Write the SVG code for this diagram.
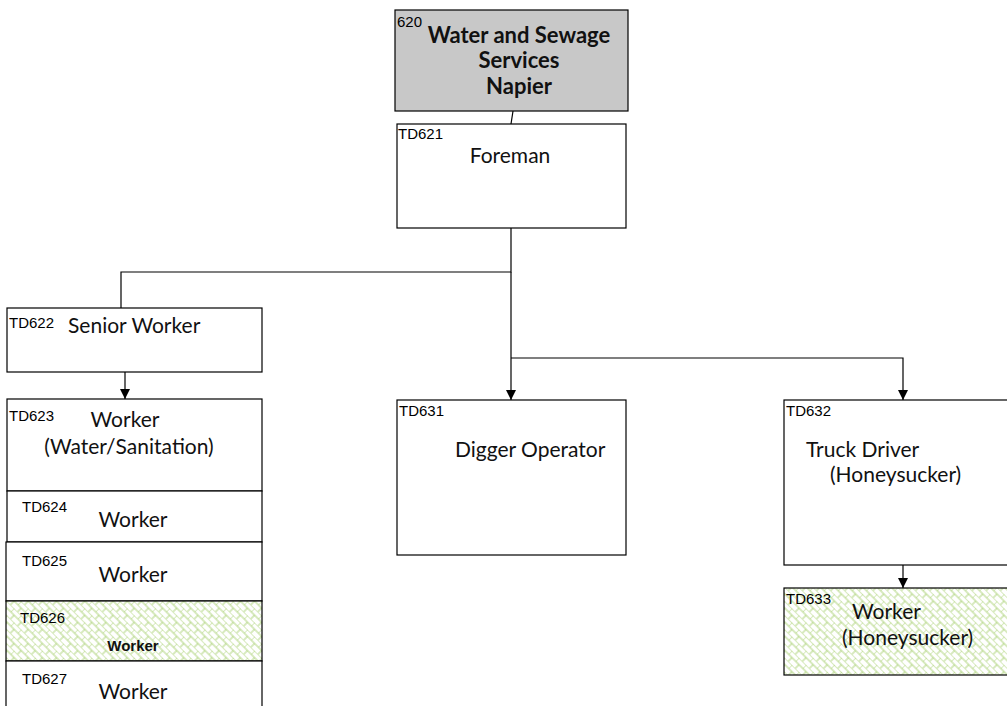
<svg xmlns="http://www.w3.org/2000/svg" width="1007" height="706" viewBox="0 0 1007 706">
<defs>
<pattern id="hatch" width="10" height="10" patternUnits="userSpaceOnUse" patternTransform="rotate(45)">
<rect width="10" height="10" fill="#ffffff"/>
<path d="M0,0 H10 M0,5 H10 M0,0 V5 M5,5 V10" stroke="#a8d070" stroke-width="0.9" fill="none"/>
</pattern>
<marker id="arr" viewBox="0 0 10 10" refX="10" refY="5" markerWidth="10" markerHeight="10" markerUnits="userSpaceOnUse" orient="auto">
<path d="M0,0 L10,5 L0,10 z" fill="#000"/>
</marker>
</defs>
<style>
.box{fill:#fff;stroke:#000;stroke-width:1.2}
.grey{fill:#c8c8c8;stroke:#000;stroke-width:1.2}
.hat{fill:url(#hatch);stroke:#000;stroke-width:1.2}
.code{font-family:"Liberation Sans",Arial,sans-serif;font-size:15px;fill:#000}
.lbl{font-family:Lato,"Open Sans",sans-serif;font-size:21px;fill:#111}
.bold{font-family:Lato,"Open Sans",sans-serif;font-size:22px;font-weight:bold;fill:#111}
.small{font-family:"Liberation Sans",Arial,sans-serif;font-size:15px;font-weight:bold;fill:#111}
.ln{stroke:#000;stroke-width:1.2;fill:none}
</style>
<rect width="1007" height="706" fill="#fff"/>
<g id="connectors">
<line class="ln" x1="513" y1="111" x2="511" y2="124"/>
<polyline class="ln" points="511,228 511,272 121,272 121,308"/>
<line class="ln" x1="511" y1="272" x2="511" y2="400" marker-end="url(#arr)"/>
<polyline class="ln" points="511,358 903,358 903,400" marker-end="url(#arr)"/>
<line class="ln" x1="125" y1="372" x2="125" y2="399" marker-end="url(#arr)"/>
<line class="ln" x1="903" y1="565" x2="903" y2="588" marker-end="url(#arr)"/>
</g>
<g id="n620">
<rect class="grey" x="395" y="10" width="233" height="101"/>
<text class="code" x="397" y="27">620</text>
<text class="bold" x="519" y="43" text-anchor="middle">Water and Sewage</text>
<text class="bold" x="519" y="68" text-anchor="middle">Services</text>
<text class="bold" x="519" y="94" text-anchor="middle">Napier</text>
</g>
<g id="n621">
<rect class="box" x="397" y="124" width="229" height="104"/>
<text class="code" x="398" y="139">TD621</text>
<text class="lbl" x="510" y="163" text-anchor="middle">Foreman</text>
</g>
<g id="n622">
<rect class="box" x="7" y="308" width="255" height="64"/>
<text class="code" x="9" y="328">TD622</text>
<text class="lbl" x="68" y="333">Senior Worker</text>
</g>
<g id="n623">
<rect class="box" x="7" y="399" width="255" height="92"/>
<text class="code" x="9" y="421">TD623</text>
<text class="lbl" x="125" y="427" text-anchor="middle">Worker</text>
<text class="lbl" x="129" y="454" text-anchor="middle">(Water/Sanitation)</text>
</g>
<g id="n624">
<rect class="box" x="7" y="491" width="255" height="51"/>
<text class="code" x="22" y="512">TD624</text>
<text class="lbl" x="133" y="527" text-anchor="middle">Worker</text>
</g>
<g id="n625">
<rect class="box" x="6" y="542" width="256" height="59"/>
<text class="code" x="22" y="566">TD625</text>
<text class="lbl" x="133" y="582" text-anchor="middle">Worker</text>
</g>
<g id="n626">
<rect class="hat" x="6" y="601" width="256" height="60"/>
<text class="code" x="20" y="623">TD626</text>
<text class="small" x="133" y="651" text-anchor="middle">Worker</text>
</g>
<g id="n627">
<rect class="box" x="6" y="661" width="256" height="60"/>
<text class="code" x="22" y="684">TD627</text>
<text class="lbl" x="133" y="699" text-anchor="middle">Worker</text>
</g>
<g id="n631">
<rect class="box" x="397" y="400" width="229" height="155"/>
<text class="code" x="399" y="416">TD631</text>
<text class="lbl" x="455" y="457">Digger Operator</text>
</g>
<g id="n632">
<rect class="box" x="784" y="400" width="230" height="165"/>
<text class="code" x="786" y="416">TD632</text>
<text class="lbl" x="806" y="457">Truck Driver</text>
<text class="lbl" x="830" y="482">(Honeysucker)</text>
</g>
<g id="n633">
<rect class="hat" x="784" y="588" width="230" height="87"/>
<text class="code" x="786" y="604">TD633</text>
<text class="lbl" x="852" y="619">Worker</text>
<text class="lbl" x="842" y="645">(Honeysucker)</text>
</g>
</svg>
